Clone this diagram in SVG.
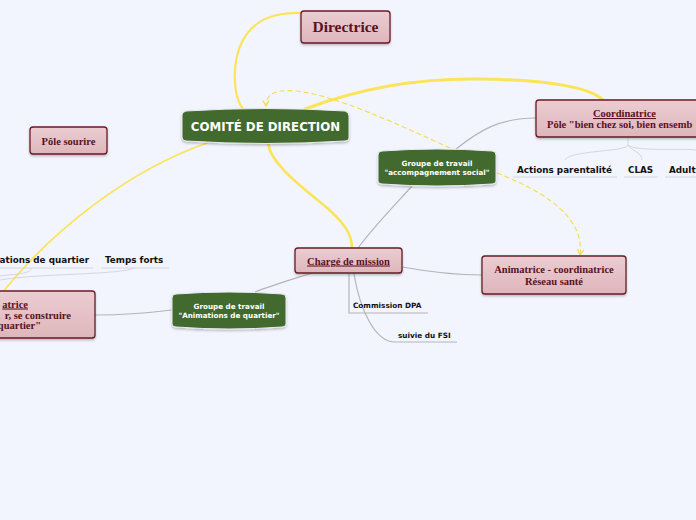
<svg xmlns="http://www.w3.org/2000/svg" width="696" height="520" viewBox="0 0 696 520">
<defs>
<linearGradient id="pink" x1="0" y1="0" x2="0" y2="1"><stop offset="0" stop-color="#ebcdd1"/><stop offset="1" stop-color="#deb6bc"/></linearGradient>
<marker id="arr" viewBox="0 0 10 10" refX="8" refY="5" markerWidth="7" markerHeight="7" orient="auto"><path d="M1 1 L8 5 L1 9" fill="none" stroke="#f5dc4a" stroke-width="1.6"/></marker>
<filter id="sh" x="-10%" y="-20%" width="120%" height="150%"><feDropShadow dx="0" dy="1.5" stdDeviation="1" flood-color="#000" flood-opacity="0.25"/></filter>
</defs>
<style>
.pk{fill:url(#pink);stroke:#6a1a27;stroke-width:1.3;filter:url(#sh)}
.gr{fill:#436b2f;stroke:#e8ecf2;stroke-width:1;filter:url(#sh)}
.st{font-family:"Liberation Serif","Times New Roman",serif;font-weight:bold;fill:#5a1122;text-anchor:middle}
.st.s{text-anchor:start}
.st.e{text-anchor:end}
.wt{font-family:"DejaVu Sans",Verdana,sans-serif;font-weight:bold;fill:#ffffff;text-anchor:middle}
.bt{font-family:"DejaVu Sans",Verdana,sans-serif;font-weight:bold;fill:#111111}
.bt.e{text-anchor:end}
.y{fill:none;stroke:#fbe35a;stroke-linecap:round}
.yd{fill:none;stroke:#f6dc48;stroke-width:1.1;stroke-dasharray:5 3}
.g{fill:none;stroke:#b5b5b8;stroke-width:1.2}
.ul{fill:none;stroke:#d4d6e0;stroke-width:1}
</style>
<rect width="696" height="520" fill="#f2f5fd"/>
<g id="connectors">
<path class="y" stroke-width="2.2" d="M 243 109 C 232 95 232 60 243 40 C 253 22 270 12 302 13"/>
<path class="y" stroke-width="3" d="M 305 109 C 360 88 420 78 480 79 C 555 80 590 88 603 100"/>
<path class="y" stroke-width="2.6" d="M 268 143 C 270 160 290 178 320 202 C 345 222 352 235 352 248"/>
<path class="y" stroke-width="1.8" d="M 207 143 C 130 170 50 230 -5 302"/>
<path class="yd" marker-end="url(#arr)" d="M 450 148 C 400 125 330 93 295 91 C 272 89 266 96 266 106"/>
<path class="yd" marker-end="url(#arr)" d="M 497 173 C 540 190 585 215 580 255"/>
<path class="g" d="M 456 149 C 480 130 500 118 536 118"/>
<path class="g" d="M 358 248 C 375 225 395 205 412 186"/>
<path class="g" d="M 312 273 C 290 280 270 286 255 292"/>
<path class="g" d="M 172 310 C 140 314 120 315 95 315"/>
<path class="g" d="M 402 267 C 430 272 460 275 482 275"/>
<path class="g" d="M 349 274 L 349 313 L 428 313"/>
<path class="g" d="M 354 274 C 360 310 375 342 395 342 L 457 342"/>
<path class="ul" d="M 628 137 L 628 145 C 627 152 570 150 565 160"/>
<path class="ul" d="M 628 145 C 630 150 642 152 642 160"/>
<path class="ul" d="M 628 145 C 635 152 685 148 696 150"/>
<path class="ul" d="M 513 177 L 617 177 M 624 177 L 658 177 M 665 177 L 696 177"/>
<path class="ul" d="M 32 268 C 30 275 10 274 0 276"/>
<path class="ul" d="M 135 267 C 130 275 40 273 0 280"/>
<path class="ul" d="M 0 268 L 93 268 M 101 268 L 169 268"/>
</g>
<g id="directrice"><rect class="pk" x="301" y="11" width="89" height="32" rx="3"/><text class="st" x="345.5" y="31.5" font-size="15.5">Directrice</text></g>
<g id="comite"><path class="gr" d="M 186 111 Q 265 106 345 111 Q 349 112 349 116 L 349 138 Q 349 141 345 141 Q 265 146 186 141 Q 182 141 182 137 L 182 115 Q 182 112 186 111 Z"/><text class="wt" x="265.5" y="130.5" font-size="11.8">COMITÉ DE DIRECTION</text></g>
<g id="groupe-accompagnement"><path class="gr" d="M 382 151 Q 437 147 492 151 Q 496 151 496 155 L 496 181 Q 496 184 492 184 Q 437 188 382 184 Q 378 184 378 181 L 378 155 Q 378 151 382 151 Z"/><text class="wt" x="437" y="165.5" font-size="7.2">Groupe de travail</text><text class="wt" x="437" y="175" font-size="7.2">"accompagnement social"</text></g>
<g id="coordinatrice"><rect class="pk" x="536" y="100" width="180" height="37" rx="3"/><text class="st" x="624.5" y="117" font-size="10.5" text-decoration="underline">Coordinatrice</text><text class="st s" x="547" y="127.5" font-size="10.5">Pôle "bien chez soi, bien ensemb</text></g>
<g id="actions"><text class="bt" x="517" y="172.5" font-size="8.8">Actions parentalité</text></g>
<g id="clas"><text class="bt" x="628" y="172.5" font-size="8.8">CLAS</text></g>
<g id="adult"><text class="bt" x="669" y="172.5" font-size="8.8">Adult</text></g>
<g id="pole-sourire"><rect class="pk" x="30" y="127" width="77" height="27" rx="3"/><text class="st" x="68.5" y="144.5" font-size="10.5">Pôle sourire</text></g>
<g id="animatrice-quartier"><rect class="pk" x="-10" y="291" width="105" height="47" rx="3"/><text class="st e" x="28" y="307.5" font-size="10.5" text-decoration="underline">atrice</text><text class="st e" x="71" y="318.5" font-size="10.5">r, se construire</text><text class="st e" x="41" y="329" font-size="10.5">quartier"</text></g>
<g id="animations-quartier"><text class="bt e" x="89" y="262.5" font-size="8.8">ations de quartier</text></g>
<g id="temps-forts"><text class="bt" x="105" y="262.5" font-size="8.8">Temps forts</text></g>
<g id="charge"><rect class="pk" x="295" y="248" width="107" height="25" rx="3"/><text class="st" x="348.5" y="264.5" font-size="10.5" text-decoration="underline">Chargé de mission</text></g>
<g id="groupe-animations"><path class="gr" d="M 176 294 Q 229 290 282 294 Q 286 294 286 298 L 286 324 Q 286 327 282 327 Q 229 331 176 327 Q 172 327 172 324 L 172 298 Q 172 294 176 294 Z"/><text class="wt" x="229" y="309" font-size="7.2">Groupe de travail</text><text class="wt" x="229" y="317.5" font-size="7.2">"Animations de quartier"</text></g>
<g id="animatrice-sante"><rect class="pk" x="482" y="256" width="144" height="38" rx="3"/><text class="st" x="554" y="273" font-size="10.5">Animatrice - coordinatrice</text><text class="st" x="554" y="285" font-size="10.5">Réseau santé</text></g>
<g id="commission"><text class="bt" x="353" y="307.5" font-size="7.3">Commission DPA</text></g>
<g id="fsi"><text class="bt" x="398" y="338" font-size="7.3">suivie du FSI</text></g>
</svg>
